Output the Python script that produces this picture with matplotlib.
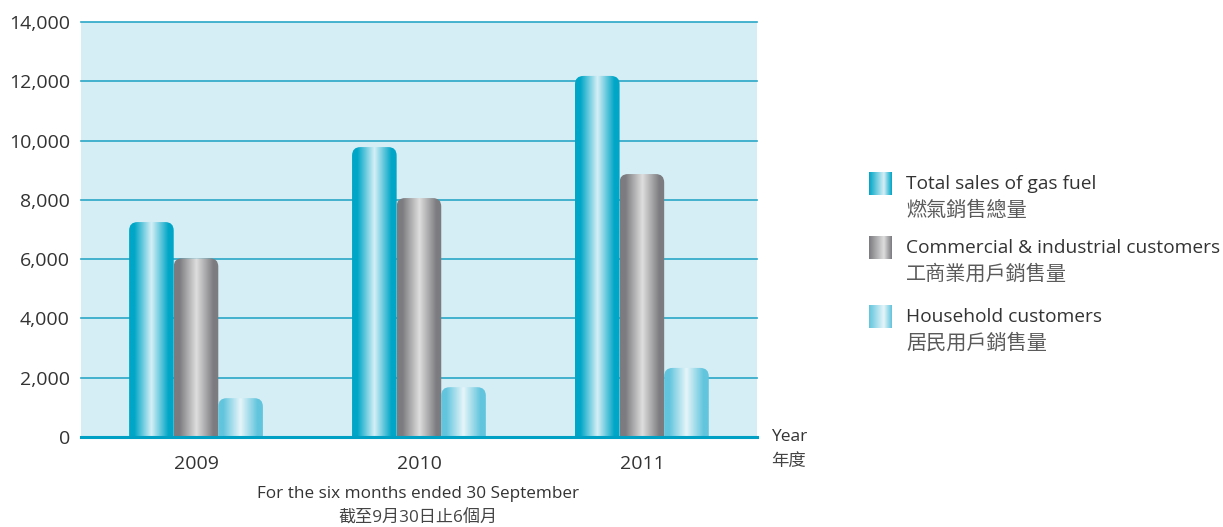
import numpy as np
import matplotlib.pyplot as plt
from matplotlib.colors import LinearSegmentedColormap
from matplotlib.patches import FancyBboxPatch

plt.rcParams['font.family'] = ['Open Sans', 'Noto Sans CJK TC', 'DejaVu Sans']

# data
years = ['2009', '2010', '2011']
total_sales = [7250, 9780, 12180]
commercial = [6030, 8060, 8870]
household = [1310, 1680, 2330]
series_names = ['Total sales of gas fuel', 'Commercial & industrial customers', 'Household customers']
series_names_zh = ['燃氣銷售總量', '工商業用戶銷售量', '居民用戶銷售量']
y_ticks = [0, 2000, 4000, 6000, 8000, 10000, 12000, 14000]

# gradient colour stops (edge, highlight)
grads = [('#00a6c7', '#d6eff6'), ('#7c7c80', '#dedede'), ('#62c5dd', '#e6f5f9')]


def make_cmap(edge, light):
    return LinearSegmentedColormap.from_list(
        'g', [(0, edge), (0.12, edge), (0.5, light), (0.88, edge), (1, edge)])


fig = plt.figure(figsize=(12.23, 5.27), dpi=100)
ax = fig.add_axes([0.0662, 0.1708, 0.5527, 0.7875])
ax.set_facecolor('#d5edf5')

ymax = 14000
x0, x1 = -0.516, 2.516
ax.set_xlim(x0, x1)
ax.set_ylim(0, ymax)

for v in y_ticks[1:]:
    ax.axhline(v, color='#2aa7c6', lw=1.2, zorder=1, clip_on=False)

bw = 0.2
grad = np.linspace(0, 1, 256).reshape(1, -1)
rx = 0.038
aspect = (8.5 / 415 * ymax) / rx
for s, vals in enumerate([total_sales, commercial, household]):
    cmap = make_cmap(*grads[s])
    for i, v in enumerate(vals):
        left = i + (s - 1) * bw - bw / 2
        patch = FancyBboxPatch((left, -600), bw, v + 600,
                               boxstyle='round,pad=0,rounding_size=%g' % rx,
                               mutation_aspect=aspect, facecolor='none',
                               edgecolor='none', zorder=2)
        ax.add_patch(patch)
        im = ax.imshow(grad, cmap=cmap, aspect='auto', zorder=2,
                       extent=(left, left + bw, 0, v), interpolation='bilinear')
        im.set_clip_path(patch)

ax.set_xlim(x0, x1)
ax.set_ylim(0, ymax)
ax.axhline(0, color='#00a0c4', lw=2.2, zorder=3, clip_on=False)

for sp in ax.spines.values():
    sp.set_visible(False)
ax.set_yticks(y_ticks)
ax.set_yticklabels(['{:,}'.format(t) for t in y_ticks])
ax.set_xticks(range(len(years)))
ax.set_xticklabels(years)
ax.tick_params(length=0, labelsize=14, colors='#333333')
ax.tick_params(axis='y', pad=8)
ax.tick_params(axis='x', pad=13)

fig.text(771 / 1223, 1 - 437 / 527, 'Year', fontsize=12.5, color='#333333', va='center')
fig.text(771 / 1223, 1 - 462 / 527, '年度', fontsize=12.5, color='#444444', va='center')
fig.text(418 / 1223, 1 - 494 / 527, 'For the six months ended 30 September',
         fontsize=12.3, color='#333333', ha='center', va='center')
fig.text(418 / 1223, 1 - 518 / 527, '截至9月30日止6個月',
         fontsize=12.3, color='#444444', ha='center', va='center')

# legend
leg_y = [184, 248, 317]
lgrad = np.linspace(0, 1, 64).reshape(1, -1)
for s in range(3):
    cy = leg_y[s]
    lax = fig.add_axes([869 / 1223, 1 - (cy + 11) / 527, 23 / 1223, 23 / 527])
    lcm = LinearSegmentedColormap.from_list(
        'l', [(0, grads[s][0]), (0.65, grads[s][1]), (1, grads[s][0])])
    lax.imshow(lgrad, cmap=lcm, aspect='auto', interpolation='bilinear')
    lax.axis('off')
    fig.text(906 / 1223, 1 - cy / 527, series_names[s], fontsize=13.8,
             color='#333333', va='center')
    fig.text(906 / 1223, 1 - (cy + 27) / 527, series_names_zh[s], fontsize=14.5,
             color='#5a5a5a', va='center')

fig.savefig('out.png', dpi=100)
